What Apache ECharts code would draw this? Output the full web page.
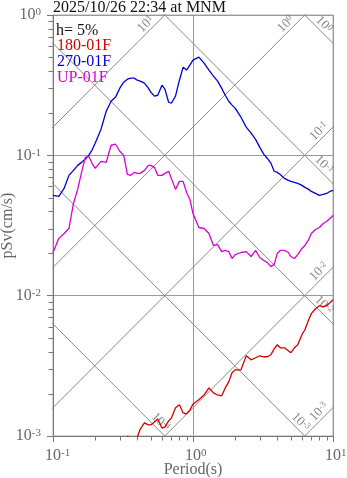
<!DOCTYPE html>
<html>
<head>
<meta charset="utf-8">
<script src="https://cdn.jsdelivr.net/npm/echarts@6/dist/echarts.min.js"></script>
<style>
  html, body { margin: 0; padding: 0; background: #fff; }
  #chart { width: 347px; height: 478px; }
</style>
</head>
<body>
<div id="chart"></div>
<script>
// Pseudo-velocity response spectra (h = 5%), tripartite log-log plot.
const titleText = '2025/10/26 22:34 at MNM';
const dampingText = 'h= 5%';
const seriesNames = ['180-01F', '270-01F', 'UP-01F'];

// Periods (s)
const periods = [0.10,0.11,0.12,0.13,0.14,0.15,0.16,0.17,0.18,0.19,
  0.20,0.22,0.24,0.26,0.28,0.30,0.32,
  0.34,0.36,0.38,0.40,0.42,0.45,0.48,0.50,0.53,0.56,0.60,0.63,0.67,0.70,0.75,0.80,0.85,0.90,0.95,
  1.0,1.1,1.2,1.3,1.4,1.5,1.6,1.7,1.8,1.9,
  2.0,2.2,2.4,2.6,2.8,3.0,3.2,3.4,3.6,3.8,4.0,4.2,4.5,4.8,5.0,5.3,5.6,6.0,6.3,6.7,7.0,7.5,8.0,8.5,9.0,9.5,10];

// pSv (cm/s), 180-01F component (below 0.001 cm/s at short periods)
const sv180 = [null,null,null,null,null,null,null,null,null,null,
  null,null,null,null,null,null,null,
  0.00100,0.00094,0.00092,0.00098,0.00112,0.00124,0.00120,0.00120,0.00126,0.00132,0.00114,0.00116,0.00128,0.00134,0.00159,0.00167,0.00146,0.00144,0.00153,
  0.00169,0.00181,0.00196,0.00220,0.00203,0.00196,0.00193,0.00220,0.00243,0.00282,
  0.00296,0.00296,0.00373,0.00349,0.00361,0.00373,0.00367,0.00367,0.00379,0.00418,0.00447,0.00425,0.00425,0.00405,0.00392,0.00425,0.00447,0.00527,0.00572,0.00674,0.00744,0.00807,0.00848,0.00834,0.00848,0.00891,0.00936];

// pSv (cm/s), 270-01F component
const sv270 = [0.0518,0.0510,0.0581,0.0720,0.0781,0.0848,0.0891,0.0936,0.100,0.109,
  0.122,0.153,0.206,0.243,0.260,0.301,0.332,
  0.349,0.355,0.355,0.343,0.338,0.327,0.301,0.282,0.264,0.268,0.316,0.296,0.239,0.235,0.264,0.343,0.425,0.405,0.439,
  0.477,0.501,0.454,0.405,0.367,0.338,0.301,0.268,0.243,0.228,
  0.217,0.187,0.159,0.144,0.130,0.114,0.102,0.095,0.088,0.077,0.0756,0.0731,0.0685,0.0663,0.0652,0.0641,0.0631,0.0611,0.0591,0.0572,0.0553,0.0535,0.0518,0.0526,0.0535,0.0553,0.0562];

// pSv (cm/s), UP-01F component
const svUP = [0.0203,0.0255,0.0277,0.0301,0.0454,0.0572,0.0756,0.0968,0.0984,0.0877,
  0.0807,0.0906,0.0891,0.118,0.120,0.107,0.100,
  0.0731,0.0720,0.0756,0.0744,0.0744,0.0781,0.0848,0.0848,0.0821,0.0720,0.0720,0.0744,0.0769,0.0685,0.0572,0.0652,0.0652,0.0544,0.0485,
  0.0385,0.0306,0.0301,0.0277,0.0228,0.0231,0.0206,0.0210,0.0206,0.0184,
  0.0196,0.0203,0.0206,0.0190,0.0210,0.0187,0.0178,0.0172,0.0161,0.0167,0.0200,0.0210,0.0210,0.0203,0.0190,0.0184,0.0196,0.0217,0.0228,0.0251,0.0277,0.0296,0.0306,0.0327,0.0338,0.0355,0.0373];

const seriesColors = ['#d40000', '#0000d8', '#d800d8'];

// Axis ranges
const periodRange = [0.1, 10];
const svRange = [0.001, 1];

// Diagonal reference levels: acceleration (cm/s^2) and displacement (cm)
const accelLevels = [1e-3, 1e-2, 1e-1, 1, 10];
const dispLevels = [1e-4, 1e-3, 1e-2, 1e-1, 1];

// Minor tick positions
const periodMinorTicks = [0.2,0.3,0.4,0.5,0.6,0.7,0.8,0.9,2,3,4,5,6,7,8,9];
const svMinorTicks = [0.002,0.003,0.004,0.005,0.006,0.007,0.008,0.009,
  0.02,0.03,0.04,0.05,0.06,0.07,0.08,0.09,0.2,0.3,0.4,0.5,0.6,0.7,0.8,0.9];

const FONT = '"Liberation Serif", "DejaVu Serif", serif';
const TWO_PI = 2 * Math.PI;
const lg = Math.log10;
const GRID_GRAY = '#999';
const DIAG_GRAY = '#8a8a8a';
const AXIS_GRAY = '#777';
const TEXT_GRAY = '#666';

function expOf(v) { return String(Math.round(lg(v))); }

// Diagonal lines (extend past the axes; the grid clips them)
const diagSeries = [];
const diagLabels = [];
const farT = [0.01, 100];
accelLevels.forEach(function (a) {
  diagSeries.push({
    type: 'line', silent: true, showSymbol: false, z: 1,
    lineStyle: { color: DIAG_GRAY, width: 1 },
    data: farT.map(function (t) { return [t, a * t / TWO_PI]; })
  });
  // upper-right end of the line inside the plot
  const tTop = lg(TWO_PI * svRange[1] / a);
  const exitTop = tTop < lg(periodRange[1]);
  const logTEnd = Math.min(tTop, lg(periodRange[1]));
  const back = exitTop ? 0.1 : 0.065;
  const lt = logTEnd - back;
  const ls = lg(a) + lt - lg(TWO_PI);
  diagLabels.push({ name: expOf(a), value: [Math.pow(10, lt - 0.035), Math.pow(10, ls + 0.035)], label: { rotate: 45 } });
});
dispLevels.forEach(function (d) {
  diagSeries.push({
    type: 'line', silent: true, showSymbol: false, z: 1,
    lineStyle: { color: DIAG_GRAY, width: 1 },
    data: farT.map(function (t) { return [t, TWO_PI * d / t]; })
  });
  // lower-right end of the line inside the plot
  const tBottom = lg(TWO_PI * d / svRange[0]);
  const exitRight = tBottom >= lg(periodRange[1]);
  const logTEnd = Math.min(tBottom, lg(periodRange[1]));
  const back = exitRight ? 0.1 : 0.065;
  const lt = logTEnd - back;
  const ls = lg(TWO_PI * d) - lt;
  diagLabels.push({ name: expOf(d), value: [Math.pow(10, lt + 0.035), Math.pow(10, ls + 0.035)], label: { rotate: -45 } });
});

const chart = echarts.init(document.getElementById('chart'), null, { renderer: 'canvas' });

const supRich = {
  b: { fontFamily: FONT, fontSize: 16, lineHeight: 16, color: TEXT_GRAY },
  s: { fontFamily: FONT, fontSize: 11, lineHeight: 11, verticalAlign: 'top', color: TEXT_GRAY },
  h: { fontFamily: FONT, fontSize: 11, lineHeight: 11, color: 'rgba(0,0,0,0)' }
};

const dataSeries = [sv180, sv270, svUP].map(function (vals, i) {
  return {
    name: seriesNames[i],
    type: 'line',
    showSymbol: false,
    z: 5,
    lineStyle: { color: seriesColors[i], width: 1.3 },
    itemStyle: { color: seriesColors[i] },
    data: periods.map(function (t, k) { return [t, vals[k]]; })
  };
});

const option = {
  animation: false,
  backgroundColor: '#fff',
  title: [
    { text: titleText, left: 53, top: 0.5, padding: 0,
      textStyle: { fontFamily: FONT, fontSize: 16, lineHeight: 14, fontWeight: 'normal', color: '#111' } },
    { text: dampingText, left: 56, top: 23.5, padding: 0,
      textStyle: { fontFamily: FONT, fontSize: 16, lineHeight: 14, fontWeight: 'normal', color: '#111' } }
  ],
  legend: {
    orient: 'vertical', left: 52, top: 38, padding: 0, itemGap: 0,
    itemWidth: 0, itemHeight: 14, icon: 'rect', selectedMode: false,
    textStyle: { fontFamily: FONT, fontSize: 16, lineHeight: 14 },
    data: seriesNames.map(function (n, i) { return { name: n, textStyle: { color: seriesColors[i] } }; })
  },
  grid: {
    left: 53, right: 14, top: 15, bottom: 42,
    show: true, borderColor: '#aaa', borderWidth: 1,
    containLabel: false, outerBoundsMode: 'none'
  },
  xAxis: {
    type: 'log', logBase: 10, min: periodRange[0], max: periodRange[1],
    name: 'Period(s)', nameLocation: 'middle', nameGap: 26, nameMoveOverlap: false,
    nameTextStyle: { fontFamily: FONT, fontSize: 16, color: TEXT_GRAY },
    axisLine: { show: true, lineStyle: { color: AXIS_GRAY } },
    axisTick: { show: true, length: 6, lineStyle: { color: AXIS_GRAY } },
    minorTick: { show: false },
    axisLabel: {
      margin: 12,
      formatter: function (v) { const e = expOf(v); return '{h|' + e + '}{b|10}{s|' + e + '}'; },
      rich: supRich
    },
    splitLine: { show: true, lineStyle: { color: GRID_GRAY, width: 1 } }
  },
  yAxis: {
    type: 'log', logBase: 10, min: svRange[0], max: svRange[1],
    name: 'pSv(cm/s)', nameLocation: 'middle', nameGap: 37, nameRotate: 90, nameMoveOverlap: false,
    nameTextStyle: { fontFamily: FONT, fontSize: 16, color: TEXT_GRAY },
    axisLine: { show: true, lineStyle: { color: AXIS_GRAY } },
    axisTick: { show: true, length: 6, lineStyle: { color: AXIS_GRAY } },
    minorTick: { show: false },
    axisLabel: {
      margin: 12,
      formatter: function (v) { return '{b|10}{s|' + expOf(v) + '}'; },
      rich: supRich
    },
    splitLine: { show: true, lineStyle: { color: GRID_GRAY, width: 1 } }
  },
  series: diagSeries.concat([
    {
      type: 'scatter', silent: true, symbolSize: 0, z: 2, clip: false,
      data: diagLabels,
      label: {
        show: true, position: 'inside', align: 'center', verticalAlign: 'middle',
        formatter: function (p) { return '{b|10}{s|' + p.name + '}'; },
        rich: {
          b: { fontFamily: FONT, fontSize: 13, lineHeight: 13, color: '#666' },
          s: { fontFamily: FONT, fontSize: 9, lineHeight: 9, verticalAlign: 'top', color: '#666' }
        }
      }
    },
    {
      // minor ticks under the period axis
      type: 'custom', silent: true, clip: false, z: 3,
      data: periodMinorTicks.map(function (t) { return [t, svRange[0]]; }),
      renderItem: function (params, api) {
        const p = api.coord([api.value(0), api.value(1)]);
        const x = Math.round(p[0]) + 0.5;
        return { type: 'line', shape: { x1: x, y1: p[1], x2: x, y2: p[1] + 4.5 },
          style: { stroke: AXIS_GRAY, lineWidth: 1 } };
      }
    },
    {
      // minor ticks left of the pSv axis
      type: 'custom', silent: true, clip: false, z: 3,
      data: svMinorTicks.map(function (v) { return [periodRange[0], v]; }),
      renderItem: function (params, api) {
        const p = api.coord([api.value(0), api.value(1)]);
        const y = Math.round(p[1]) + 0.5;
        return { type: 'line', shape: { x1: p[0] - 4.5, y1: y, x2: p[0], y2: y },
          style: { stroke: AXIS_GRAY, lineWidth: 1 } };
      }
    }
  ]).concat(dataSeries)
};

chart.setOption(option);
</script>
</body>
</html>
